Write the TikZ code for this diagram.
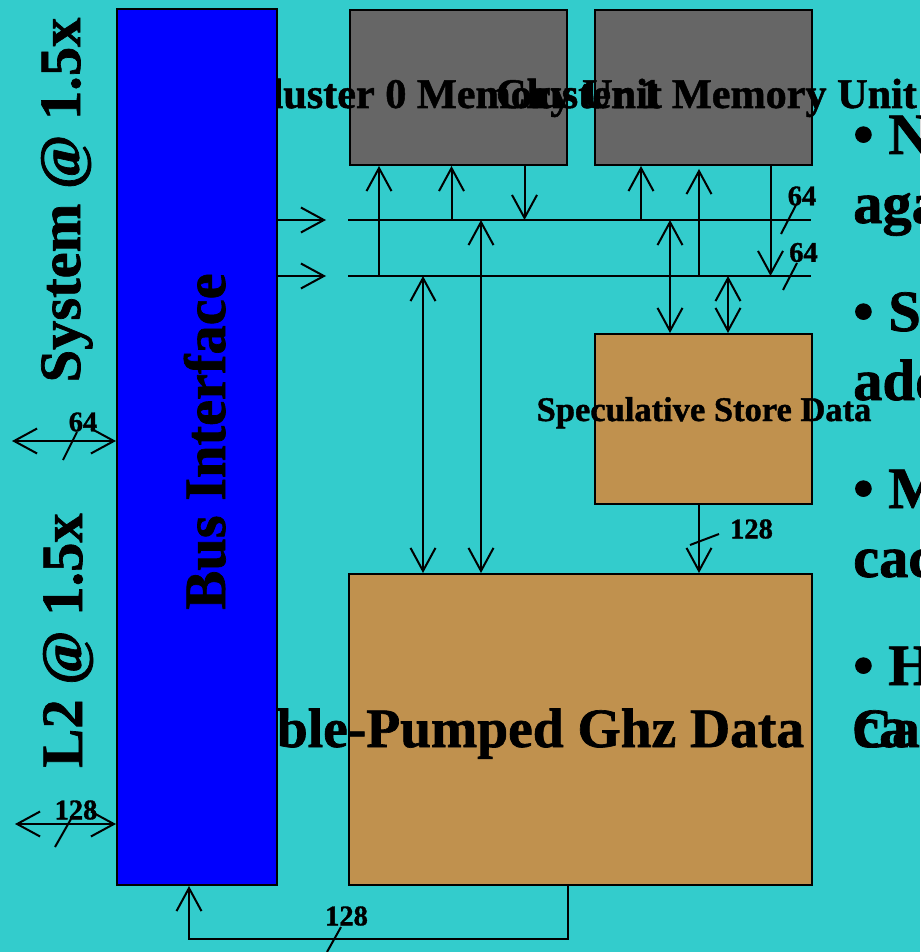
\documentclass[tikz,border=0pt]{standalone}
\usepackage{fontspec}
\setmainfont{Liberation Serif}[BoldFeatures={FakeBold=1.2}]
\usetikzlibrary{arrows.meta,calc}
\definecolor{bgteal}{RGB}{51,204,204}
\definecolor{busblue}{RGB}{0,0,255}
\definecolor{memgray}{RGB}{102,102,102}
\definecolor{cachetan}{RGB}{192,145,78}
\tikzset{
  blk/.style={draw=black, line width=2pt, inner sep=0pt, anchor=north west},
  bigtxt/.style={font=\fontsize{58.5pt}{70pt}\selectfont\bfseries, inner sep=0pt},
  cachetxt/.style={font=\fontsize{55.5pt}{66pt}\selectfont\bfseries, inner sep=0pt},
  clutxt/.style={font=\fontsize{42.2pt}{50pt}\selectfont\bfseries, inner sep=0pt},
  sstxt/.style={font=\fontsize{34.5pt}{40pt}\selectfont\bfseries, inner sep=0pt},
  numtxt/.style={font=\fontsize{28.5pt}{34pt}\selectfont\bfseries, inner sep=0pt},
  wire/.style={draw=black, line width=2pt},
  slashmark/.style={draw=black, line width=2pt}
}
\begin{document}
\begin{tikzpicture}[x=1pt, y=-1pt, >={Straight Barb[length=23pt,width=25pt]}]
\useasboundingbox (0,0) rectangle (920,952);
\fill[bgteal] (0,0) rectangle (920,952);

% boxes (no text)
\node[blk, fill=memgray, minimum width=217pt, minimum height=155pt] (c0) at (348.5,9) {};
\node[blk, fill=memgray, minimum width=217pt, minimum height=155pt] (c1) at (594,9) {};
\node[blk, fill=cachetan, minimum width=217pt, minimum height=170pt] (ss) at (594,333) {};
\node[blk, fill=cachetan, minimum width=463pt, minimum height=311pt] (dc) at (348,573) {};

% labels of boxes
\node[cachetxt, anchor=base west] (dct) at (178,747) {Double-Pumped Ghz Data\hspace{34pt} Cache};
\node[clutxt, anchor=base] (c0t) at (451.5,108) {Cluster 0 Memory Unit};
\node[clutxt, anchor=base] (c1t) at (706.5,108) {Cluster 1 Memory Unit};
\node[sstxt, anchor=base] (sst) at (704,421) {Speculative Store Data};

% bus interface box drawn on top
\node[blk, fill=busblue, minimum width=160pt, minimum height=876pt] (bi) at (116,8) {};
\node[bigtxt, anchor=base, rotate=90] (bit) at (225,441.5) {Bus Interface};

% side labels
\node[bigtxt, anchor=base, rotate=90] (sys) at (80,200) {System @ 1.5x};
\node[bigtxt, anchor=base, rotate=90] (l2t) at (82,640.5) {L2 @ 1.5x};

% buses
\coordinate (b1w) at (348,220); \coordinate (b1e) at (811,220);
\coordinate (b2w) at (348,276); \coordinate (b2e) at (811,276);
\draw[wire] (b1w) -- (b1e);
\draw[wire] (b2w) -- (b2e);

% bus interface outputs
\coordinate (o1) at (326,220); \coordinate (o2) at (326,276);
\draw[wire,->] (bi.east |- o1) -- (o1);
\draw[wire,->] (bi.east |- o2) -- (o2);

% verticals
\coordinate (v1) at (379,276);   \draw[wire,->] (v1) -- (v1 |- c0.south);
\coordinate (v2) at (451.5,220); \draw[wire,->] (v2) -- (v2 |- c0.south);
\coordinate (v3) at (524.5,220); \draw[wire,->] (v3 |- c0.south) -- (v3);
\coordinate (v4) at (641,220);   \draw[wire,->] (v4) -- (v4 |- c1.south);
\coordinate (v5) at (699,276);   \coordinate (v5t) at (699,169); \draw[wire,->] (v5) -- (v5t);
\coordinate (v6) at (770.5,276); \draw[wire,->] (v6 |- c1.south) -- (v6);
\coordinate (v7) at (481,220);   \draw[wire,<->] (v7) -- (v7 |- dc.north);
\coordinate (v8) at (423,276);   \draw[wire,<->] (v8) -- (v8 |- dc.north);
\coordinate (v9) at (670,220);   \draw[wire,<->] (v9) -- (v9 |- ss.north);
\coordinate (v10) at (728,276);  \draw[wire,<->] (v10) -- (v10 |- ss.north);
\coordinate (v11) at (699,503);  \draw[wire,->] (v11 |- ss.south) -- (v11 |- dc.north);

% left external ports
\coordinate (l1) at (12,441);  \draw[wire,<->] (l1) -- (l1 -| bi.west);
\coordinate (l2) at (15,824);  \draw[wire,<->] (l2) -- (l2 -| bi.west);

% bottom return path
\coordinate (r1) at (568,884); \coordinate (r2) at (189,939);
\draw[wire,->] (r1) -- (r1 |- r2) -- (r2) -- (r2 |- bi.south);

% slash marks
\draw[slashmark] (781,234) -- (796,205);
\draw[slashmark] (783,290) -- (797,263);
\draw[slashmark] (63,460) -- (77,432);
\draw[slashmark] (55,847) -- (71,819);
\draw[slashmark] (327,952) -- (341,927);
\draw[slashmark] (690,545) -- (719,534);

% width labels
\node[numtxt] (n1) at (802,196) {64};
\node[numtxt] (n2) at (803.5,252.5) {64};
\node[numtxt] (n3) at (83,422) {64};
\node[numtxt] (n4) at (76,810) {128};
\node[numtxt] (n5) at (346.5,916) {128};
\node[numtxt] (n6) at (751.5,529) {128};

% bullet text (cut by right margin)
\node[bigtxt, anchor=base west] (p1) at (853,154) {• N};
\node[bigtxt, anchor=base west] (p2) at (853,223) {aga};
\node[bigtxt, anchor=base west] (p3) at (853,331) {• S};
\node[bigtxt, anchor=base west] (p4) at (853,400) {add};
\node[bigtxt, anchor=base west] (p5) at (853,508) {• M};
\node[bigtxt, anchor=base west] (p6) at (853,577) {cac};
\node[bigtxt, anchor=base west] (p7) at (853,685) {• H};
\node[bigtxt, anchor=base west] (p8) at (853,747) {ca};
\end{tikzpicture}
\end{document}
